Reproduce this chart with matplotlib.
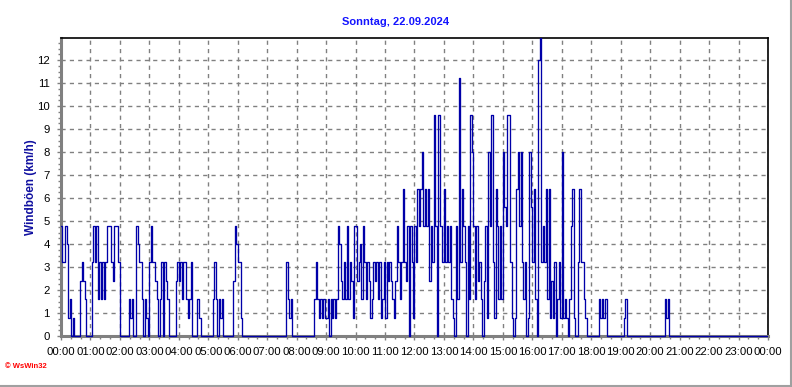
import numpy as np
import matplotlib
matplotlib.use("Agg")
import matplotlib.pyplot as plt
from matplotlib.ticker import MultipleLocator
from matplotlib.patches import Rectangle
from matplotlib.lines import Line2D

plt.rcParams['font.family'] = ['Liberation Sans', 'DejaVu Sans']

title = "Sonntag, 22.09.2024"
ylabel = "Windböen (km/h)"
xtick_labels = ["00:00", "01:00", "02:00", "03:00", "04:00", "05:00", "06:00", "07:00",
                "08:00", "09:00", "10:00", "11:00", "12:00", "13:00", "14:00", "15:00",
                "16:00", "17:00", "18:00", "19:00", "20:00", "21:00", "22:00", "23:00", "00:00"]

# gust values in km/h, one value per 3 minutes, one list per hour
h00 = [4.8, 3.2, 3.2, 4.8, 4.0, 0.8, 1.6, 0, 0.8, 0, 0, 0, 0, 2.4, 3.2, 2.4, 1.6, 0, 0, 0]
h01 = [0, 3.2, 4.8, 3.2, 4.8, 1.6, 3.2, 1.6, 3.2, 1.6, 3.2, 4.8, 4.8, 4.8, 3.2, 2.4, 4.8, 4.8, 4.8, 3.2]
h02 = [0, 0, 0, 0, 0, 0, 1.6, 0.8, 1.6, 0, 0, 4.8, 4.0, 3.2, 3.2, 1.6, 0, 1.6, 0.8, 0]
h03 = [3.2, 4.8, 3.2, 3.2, 2.4, 1.6, 0, 1.6, 3.2, 0, 3.2, 2.4, 1.6, 0, 0, 0, 0, 0, 2.4, 3.2]
h04 = [2.4, 3.2, 1.6, 3.2, 3.2, 1.6, 0.8, 1.6, 3.2, 0, 0, 0, 1.6, 1.6, 0.8, 0, 0, 0, 0, 0]
h05 = [0, 0, 0, 1.6, 3.2, 1.6, 0, 1.6, 0.8, 1.6, 0, 0, 0, 0, 0, 0, 0, 2.4, 4.8, 4.0]
h06 = [3.2, 3.2, 0.8, 0, 0, 0, 0, 0, 0, 0, 0, 0, 0, 0, 0, 0, 0, 0, 0, 0]
h07 = [0, 0, 0, 0, 0, 0, 0, 0, 0, 0, 0, 0, 0, 3.2, 1.6, 0.8, 1.6, 0, 0, 0]
h08 = [0, 0, 0, 0, 0, 0, 0, 0, 0, 0, 0, 0, 1.6, 3.2, 1.6, 0.8, 1.6, 0.8, 1.6, 0.8]
h09 = [0.8, 1.6, 0, 1.6, 0.8, 1.6, 0.8, 1.6, 4.8, 4.0, 2.4, 1.6, 3.2, 1.6, 4.8, 1.6, 3.2, 2.4, 0.8, 4.8]
h10 = [4.8, 2.4, 3.2, 4.0, 1.6, 4.8, 3.2, 1.6, 3.2, 2.4, 0.8, 1.6, 3.2, 2.4, 3.2, 1.6, 3.2, 0.8, 1.6, 3.2]
h11 = [0.8, 3.2, 2.4, 3.2, 2.4, 1.6, 0.8, 2.4, 4.8, 3.2, 1.6, 3.2, 6.4, 3.2, 2.4, 4.8, 0, 4.8, 3.2, 0.8]
h12 = [4.8, 3.2, 6.4, 4.8, 6.4, 8.0, 4.8, 6.4, 4.8, 6.4, 2.4, 4.8, 3.2, 9.6, 4.8, 0, 9.6, 4.8, 4.8, 3.2]
h13 = [6.4, 3.2, 4.8, 3.2, 4.8, 1.6, 0.8, 0, 4.8, 1.6, 11.2, 3.2, 6.4, 4.8, 3.2, 0, 4.8, 1.6, 9.6, 8.0]
h14 = [4.8, 1.6, 4.8, 2.4, 3.2, 1.6, 0, 2.4, 4.8, 0.8, 8.0, 4.8, 9.6, 3.2, 0.8, 6.4, 4.8, 1.6, 4.8, 1.6]
h15 = [8.0, 5.6, 4.8, 9.6, 9.6, 3.2, 0.8, 0, 0.8, 6.4, 8.0, 4.8, 8.0, 3.2, 1.6, 3.2, 0, 0.8, 8.0, 5.6]
h16 = [3.2, 6.4, 1.6, 0, 12.0, 13.6, 3.2, 4.8, 3.2, 6.4, 1.6, 6.4, 0.8, 2.4, 0.8, 3.2, 0, 1.6, 3.2, 0.8]
h17 = [8.0, 0.8, 1.6, 0.8, 0, 1.6, 4.8, 6.4, 0.8, 0, 0, 3.2, 6.4, 3.2, 3.2, 1.6, 0.8, 0, 0, 0]
h18 = [0, 0, 0, 0, 0, 1.6, 0.8, 1.6, 0.8, 1.6, 1.6, 0, 0, 0, 0, 0, 0, 0, 0, 0]
h19 = [0, 0, 0.8, 1.6, 0, 0, 0, 0, 0, 0, 0, 0, 0, 0, 0, 0, 0, 0, 0, 0]
h20 = [0, 0, 0, 0, 0, 0, 0, 0, 0, 0, 1.6, 0.8, 1.6, 0, 0, 0, 0, 0, 0, 0]
h21 = [0, 0, 0, 0, 0, 0, 0, 0, 0, 0, 0, 0, 0, 0, 0, 0, 0, 0, 0, 0]
h22 = [0, 0, 0, 0, 0, 0, 0, 0, 0, 0, 0, 0, 0, 0, 0, 0, 0, 0, 0, 0]
h23 = [0, 0, 0, 0, 0, 0, 0, 0, 0, 0, 0, 0, 0, 0, 0, 0, 0, 0, 0, 0]

hours = [h00, h01, h02, h03, h04, h05, h06, h07, h08, h09, h10, h11,
         h12, h13, h14, h15, h16, h17, h18, h19, h20, h21, h22, h23]
values = np.concatenate([np.array(h, dtype=float) for h in hours])
values = np.append(values, values[-1])
times = np.arange(len(values)) * 3 / 60.0  # hours since midnight

fig = plt.figure(figsize=(7.92, 3.87), dpi=100)
fig.patch.set_facecolor('white')
ax = fig.add_axes([61/792, 51/387, 707/792, 298/387])

ax.set_xlim(0, 24)
ax.set_ylim(0, 12.96)

line, = ax.plot(times, values, drawstyle='steps-post', color='#0000A8', lw=0.95, zorder=5)
clip = Rectangle((0, -0.02), 1, 1.02, transform=ax.transAxes, facecolor='none', edgecolor='none')
ax.add_patch(clip)
line.set_clip_path(clip)

ax.set_xticks(np.arange(0, 25, 1))
ax.set_xticklabels(xtick_labels)
ax.xaxis.set_minor_locator(MultipleLocator(1/3))
ax.set_yticks(np.arange(0, 13, 1))
ax.yaxis.set_minor_locator(MultipleLocator(0.25))

ax.grid(True, which='major', color='#808080', linestyle=(0, (3, 3)), linewidth=1.0, zorder=1)
ax.set_axisbelow(True)

for s in ['top', 'right']:
    ax.spines[s].set_color('black')
    ax.spines[s].set_linewidth(1.2)
for s in ['left', 'bottom']:
    ax.spines[s].set_color('#808080')
    ax.spines[s].set_linewidth(2.2)

ax.tick_params(axis='both', which='major', labelsize=8.2, color='#808080', length=3, width=1, pad=5,
               labelcolor='black')
ax.tick_params(axis='both', which='minor', color='#808080', length=2, width=1)
ax.tick_params(axis='x', pad=5)

fig.text(0.5, 1 - 22/387, title, ha='center', va='center', color='#1414FF',
         fontsize=8, fontweight='bold')
fig.text(31/792, 1 - 187/387, ylabel, ha='center', va='center', rotation=90,
         color='#1010A0', fontsize=8.5, fontweight='bold')
fig.text(5/792, 1 - 366/387, "© WsWin32", ha='left', va='center', color='#FF0000',
         fontsize=5.5, fontweight='bold')

fig.add_artist(Line2D([0, 790/792], [1 - 385.5/387, 1 - 385.5/387], transform=fig.transFigure,
                      color='#A0A0A0', lw=1.5))
fig.add_artist(Line2D([790.5/792, 790.5/792], [1 - 385.5/387, 1], transform=fig.transFigure,
                      color='#A0A0A0', lw=1.5))

fig.savefig('out.png', dpi=100)
